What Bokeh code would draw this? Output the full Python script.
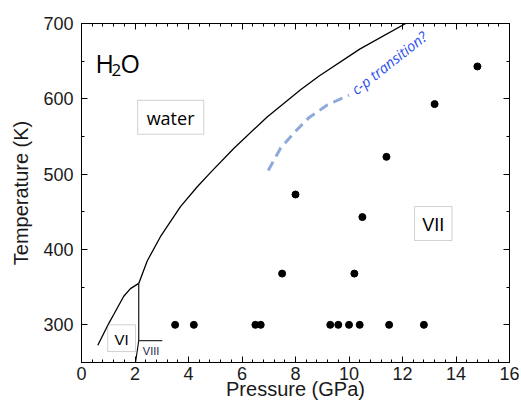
from bokeh.plotting import figure
from bokeh.models import LinearAxis, FixedTicker, Label, BoxAnnotation, Range1d
from bokeh.embed import file_html
from bokeh.resources import INLINE

# ---- data ----
dots_p = [3.5, 4.2, 6.5, 6.7, 9.3, 9.6, 10.0, 10.4, 11.5, 12.8,
          7.5, 10.2, 10.5, 8.0, 11.4, 13.2, 14.8]
dots_T = [300, 300, 300, 300, 300, 300, 300, 300, 300, 300,
          368, 368, 443, 473, 523, 593, 643]

# melting curve of ice VI
vi_melt_p = [0.61, 1.02, 1.21, 1.58, 1.83, 2.14]
vi_melt_T = [273, 302, 314, 338, 348, 355]

# melting curve of ice VII
vii_melt_p = [2.14, 2.46, 2.95, 3.70, 4.32, 4.82, 5.69, 6.94, 8.19, 8.87, 10.40, 12.12]
vii_melt_T = [355, 385, 417, 457, 483, 502, 534, 576, 612, 630, 666, 700]

# VI / VII boundary
vi_vii_p = [2.14, 2.14, 2.02]
vi_vii_T = [355, 279, 250]

# VII / VIII boundary
vii_viii_p = [2.14, 3.02]
vii_viii_T = [279, 279]

# possible c-p transition (dashed)
cp_p = [6.98, 7.45, 7.95, 8.5, 9.2, 10.0]
cp_T = [505, 535, 555, 575, 592, 605]

x_ticks = [0, 2, 4, 6, 8, 10, 12, 14, 16]
y_ticks = [300, 400, 500, 600, 700]

FONT = "Liberation Sans"

p = figure(width=519, height=405,
           x_range=Range1d(0, 16), y_range=Range1d(250, 700),
           output_backend="svg", toolbar_location=None,
           min_border_left=81, min_border_right=10,
           min_border_top=23, min_border_bottom=43,
           x_axis_label="Pressure (GPa)", y_axis_label="Temperature (K)")
p.xgrid.visible = False
p.ygrid.visible = False
p.outline_line_color = "black"
p.outline_line_width = 1
p.background_fill_color = "white"
p.border_fill_color = "white"

xt = FixedTicker(ticks=x_ticks, minor_ticks=[i * 0.4 for i in range(41)])
yt = FixedTicker(ticks=y_ticks, minor_ticks=[250 + 50 * i for i in range(10)])

def style(ax, ticker, labels=True):
    ax.ticker = ticker
    ax.axis_line_color = "black"
    ax.major_tick_in = 6
    ax.major_tick_out = 0
    ax.minor_tick_in = 3
    ax.minor_tick_out = 0
    ax.major_tick_line_color = "black"
    ax.minor_tick_line_color = "black"
    if labels:
        ax.major_label_text_font = FONT
        ax.major_label_text_font_size = "18px"
        ax.major_label_text_color = "#1a1a1a"
        ax.axis_label_text_font = FONT
        ax.axis_label_text_font_size = "20px"
        ax.axis_label_text_font_style = "normal"
        ax.axis_label_text_color = "#1a1a1a"
    else:
        ax.major_label_text_font_size = "1px"
        ax.major_label_text_color = None
        ax.major_label_standoff = 0

style(p.xaxis[0], xt)
style(p.yaxis[0], yt)
p.xaxis[0].major_label_standoff = 4
p.xaxis[0].axis_label_standoff = -5
p.yaxis[0].major_label_standoff = 8
p.yaxis[0].axis_label_standoff = 8

top = LinearAxis()
style(top, xt, labels=False)
p.add_layout(top, "above")
right = LinearAxis()
style(right, yt, labels=False)
p.add_layout(right, "right")

# phase boundaries
p.line(vi_melt_p, vi_melt_T, line_color="black", line_width=1.3)
p.line(vii_melt_p, vii_melt_T, line_color="black", line_width=1.3)
p.line(vi_vii_p, vi_vii_T, line_color="black", line_width=1.1)
p.line(vii_viii_p, vii_viii_T, line_color="#333333", line_width=1.1)
p.line(cp_p, cp_T, line_color="#8eaadb", line_width=3, line_dash="10 6")

# data points
p.scatter(dots_p, dots_T, size=7, color="black")

# boxes
for l, r, b, t in [(2.10, 4.57, 553, 598), (0.98, 2.02, 264.5, 300), (12.45, 13.85, 412, 457)]:
    p.add_layout(BoxAnnotation(left=l, right=r, bottom=b, top=t,
                               fill_alpha=0, fill_color=None,
                               line_color="#666666", line_width=1))

p.add_layout(Label(x=3.33, y=575, text="water", text_align="center", text_baseline="middle",
                   text_font="Open Sans", text_font_size="18px", text_color="black"))
p.add_layout(Label(x=1.5, y=281, text="VI", text_align="center", text_baseline="middle",
                   text_font=FONT, text_font_size="15px", text_color="black"))
p.add_layout(Label(x=13.15, y=433, text="VII", text_align="center", text_baseline="middle",
                   text_font=FONT, text_font_size="18px", text_color="black"))
p.add_layout(Label(x=2.6, y=265, text="VIII", text_align="center", text_baseline="middle",
                   text_font=FONT, text_font_size="11px", text_color="#222244"))

# H2O
p.add_layout(Label(x=0.52, y=647, text="H", text_align="left", text_baseline="alphabetic",
                   text_font="Open Sans", text_font_size="25px", text_color="black"))
p.add_layout(Label(x=0.52, y=647, x_offset=16, y_offset=-7, text="2", text_align="left",
                   text_baseline="alphabetic", text_font="Open Sans", text_font_size="17px",
                   text_color="black"))
p.add_layout(Label(x=0.52, y=647, x_offset=25, text="O", text_align="left", text_baseline="alphabetic",
                   text_font="Open Sans", text_font_size="25px", text_color="black"))

p.add_layout(Label(x=10.16, y=610, text="c-p transition?", angle=0.67, text_align="left",
                   text_baseline="alphabetic", text_font="Open Sans", text_font_style="italic",
                   text_font_size="14.5px", text_color="#3050f0"))

open("out.html", "w").write(file_html(p, INLINE))
